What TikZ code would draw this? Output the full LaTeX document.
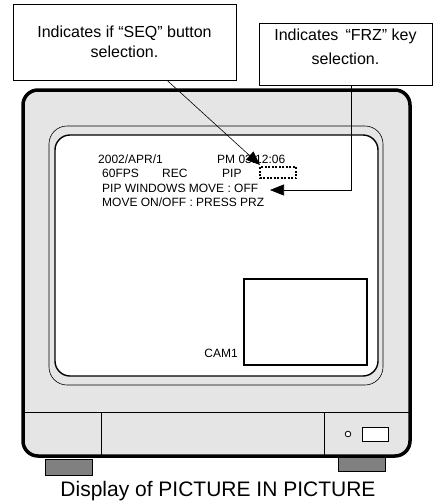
\documentclass[tikz,border=0pt]{standalone}
\usepackage{fontspec}
\setmainfont{Liberation Sans}
\usetikzlibrary{arrows.meta}
\definecolor{casegray}{gray}{0.9}
\definecolor{footgray}{gray}{0.5}
\begin{document}
\begin{tikzpicture}[x=1pt,y=-1pt,
      callout/.style={draw,fill=white,line width=0.6pt,align=center,inner sep=0pt,
        font=\fontsize{16}{20}\selectfont},
      osd/.style={anchor=base west,inner sep=0pt,font=\fontsize{12}{14}\selectfont},
      pointer/.style={line width=0.6pt,-{Triangle[length=14pt,width=11pt]}}]
      \useasboundingbox (0,0) rectangle (441,501);
      % feet
      \draw[fill=footgray,line width=0.6pt] (45,459) rectangle (92,475);
      \draw[fill=footgray,line width=0.6pt] (338,456) rectangle (385,471);
      % cabinet
      \draw[fill=casegray,line width=3.5pt,rounded corners=15pt] (23,90) rectangle (410,456);
      \draw[line width=1pt] (23,412) -- (410,412);
      \foreach \x in {101,324} {
        \draw[line width=1pt] (\x,412) -- (\x,456);
      }
      \draw[fill=white,line width=0.8pt] (348,434) circle (2.8pt);
      \draw[fill=white,line width=1pt] (362,427) rectangle (388,441);
      % bezel and screen
      \draw[line width=0.6pt,rounded corners=18pt] (49,126) rectangle (383,385);
      \draw[fill=white,line width=1.4pt,rounded corners=15pt] (55,135) rectangle (378,376);
      \draw[line width=1.2pt] (244,279) rectangle (367,365);
      \draw[line width=1.2pt,dash pattern=on 2pt off 1.5pt] (260,167) rectangle (296,178);
      % on screen text
      \foreach \nm/\x/\y/\txt in {date/98/163/{2002/APR/1},time/217/163/{PM 03:12:06},
        fps/102/177/{60FPS},rec/162/177/{REC},pip/222/177/{PIP},
        move/102/192/{PIP WINDOWS MOVE : OFF},press/102/206/{MOVE ON/OFF : PRESS PRZ}} {
        \node[osd] (\nm) at (\x,\y) {\txt};
      }
      \node[osd,anchor=base east] (cam) at (238,357) {CAM1};
      \node[font=\fontsize{21}{25}\selectfont,anchor=base,inner sep=0pt] (caption) at (218,496)
        {Display of PICTURE IN PICTURE};
      % callouts
      \node[callout,minimum width=223pt,minimum height=76pt] (seqbox) at (124.5,42)
        {Indicates if “SEQ” button\\selection.};
      \node[callout,minimum width=173pt,minimum height=62pt] (frzbox) at (345.5,54)
        {\raisebox{6pt}[\height][\depth]{\begin{tabular}{@{}c@{}}Indicates \,“FRZ” key\\[4pt]selection.\end{tabular}}};
      \coordinate (seqtip) at (260,165);
      \coordinate (frztip) at (270,190);
      \draw[pointer] ([xshift=42.5pt]seqbox.south) -- (seqtip);
      \draw[pointer] ([xshift=5.5pt]frzbox.south) |- (frztip);
    \end{tikzpicture}
\end{document}
